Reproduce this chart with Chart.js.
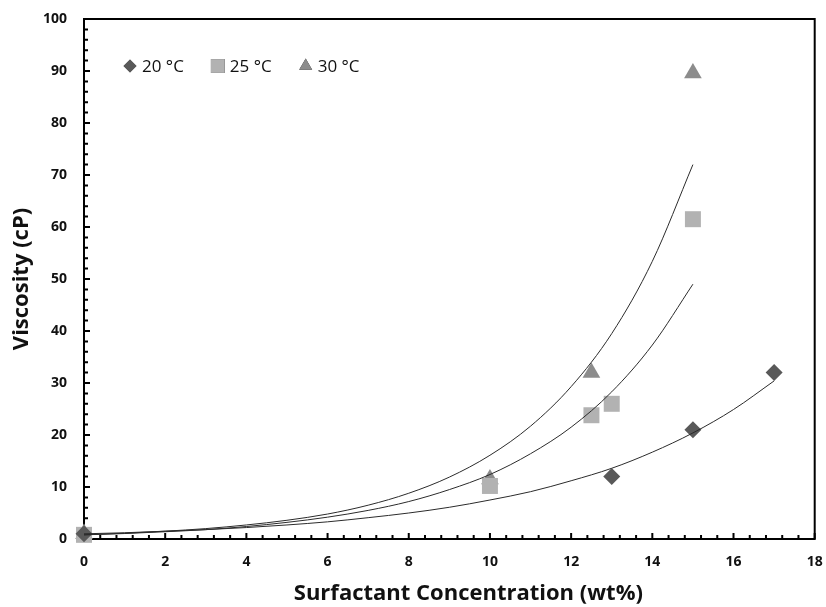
<!DOCTYPE html>
<html>
<head>
<meta charset="utf-8">
<title>Viscosity vs surfactant concentration</title>
<script src="https://cdn.jsdelivr.net/npm/chart.js@4.4.1/dist/chart.umd.min.js"></script>
<style>
    html, body { margin: 0; padding: 0; background: #fff; }
</style>
</head>
<body>
<canvas id="viscosity-chart" width="826" height="607"></canvas>
<script>
const seriesLabels = ['20 °C', '25 °C', '30 °C'];
const xTitle = 'Surfactant Concentration (wt%)';
const yTitle = 'Viscosity (cP)';

// measured points
const conc20 = [0, 13, 15, 17];
const visc20 = [1, 12, 21, 32];
const conc25 = [0, 10, 12.5, 13, 15];
const visc25 = [0.8, 10.2, 23.8, 26, 61.5];
const conc30 = [0, 10, 12.5, 15];
const visc30 = [1, 11.5, 32, 89.6];

// trend curves at every 1 wt%
const trendConc20 = [0, 1, 2, 3, 4, 5, 6, 7, 8, 9, 10, 11, 12, 13, 14, 15, 16, 17];
const trendVisc20 = [1.0, 1.2, 1.5, 1.8, 2.2, 2.7, 3.3, 4.1, 5.0, 6.1, 7.5, 9.1, 11.2, 13.6, 16.7, 20.4, 24.9, 30.4];
const trendConc25 = [0, 1, 2, 3, 4, 5, 6, 7, 8, 9, 10, 11, 12, 13, 14, 15];
const trendVisc25 = [0.8, 1.05, 1.4, 1.8, 2.4, 3.2, 4.2, 5.5, 7.2, 9.5, 12.4, 16.4, 21.5, 28.3, 37.3, 49.0];
const trendConc30 = [0, 1, 2, 3, 4, 5, 6, 7, 8, 9, 10, 11, 12, 13, 14, 15];
const trendVisc30 = [0.8, 1.1, 1.5, 2.0, 2.7, 3.6, 4.8, 6.5, 8.8, 11.9, 16.1, 21.7, 29.3, 39.5, 53.4, 72.0];

const markerColors = ['#595959', '#b2b2b2', '#8c8c8c'];
const markerStyles = ['rectRot', 'rect', 'triangle'];
const markerRadius = [8.5, 11.3, 10.2];
const legendRadius = [6.5, 9.8, 7.5];

const fontFamily = "'Open Sans', 'DejaVu Sans', sans-serif";

function toPoints(xs, ys) {
    return xs.map((x, i) => ({ x, y: ys[i] }));
}

function markerDataset(i, xs, ys) {
    return {
        label: seriesLabels[i],
        data: toPoints(xs, ys),
        pointStyle: markerStyles[i],
        pointRadius: markerRadius[i],
        pointBackgroundColor: markerColors[i],
        pointBorderColor: markerColors[i],
        pointBorderWidth: 0,
        showLine: false,
        clip: false,
        isMarker: true,
        order: 2,
    };
}

function trendDataset(xs, ys) {
    return {
        label: 'trend',
        data: toPoints(xs, ys),
        showLine: true,
        borderColor: '#2b2b2b',
        borderWidth: 1,
        pointRadius: 0,
        cubicInterpolationMode: 'monotone',
        clip: false,
        order: 1,
    };
}

// frame with inward major / minor ticks, drawn under the markers
const frameTicks = {
    id: 'frameTicks',
    beforeDatasetsDraw(chart) {
        const { ctx, chartArea: a, scales: { x, y } } = chart;
        ctx.save();
        ctx.strokeStyle = '#000';
        ctx.lineWidth = 2;
        ctx.strokeRect(a.left, a.top, a.right - a.left, a.bottom - a.top);

        ctx.beginPath();
        for (let i = 0; i <= 45; i++) {
            const px = x.getPixelForValue(i * 0.4);
            const len = i % 5 === 0 ? 6 : 4;
            ctx.moveTo(px, a.bottom);
            ctx.lineTo(px, a.bottom - len);
        }
        for (let i = 0; i <= 50; i++) {
            const py = y.getPixelForValue(i * 2);
            const len = i % 5 === 0 ? 6 : 4;
            ctx.moveTo(a.left, py);
            ctx.lineTo(a.left + len, py);
        }
        ctx.stroke();

        // x title sits a little right of the plot centre in the original
        ctx.font = `bold 22px ${fontFamily}`;
        ctx.fillStyle = '#111';
        ctx.textAlign = 'center';
        ctx.textBaseline = 'middle';
        ctx.fillText(xTitle, (a.left + a.right) / 2 + 19, chart.height - 13);
        ctx.restore();
    },
};

// legend inside the plot, top left
const insideLegend = {
    id: 'insideLegend',
    afterDraw(chart) {
        const { ctx, chartArea: a } = chart;
        const markers = chart.data.datasets.filter((d) => d.isMarker);
        ctx.save();
        ctx.font = `17px ${fontFamily}`;
        ctx.textBaseline = 'middle';
        let cx = a.left + 46;
        const cy = a.top + 47;
        markers.forEach((ds, i) => {
            Chart.helpers.drawPoint(ctx, {
                pointStyle: ds.pointStyle,
                radius: legendRadius[i],
                rotation: 0,
                borderWidth: 0,
            }, cx, cy);
            ctx.fillStyle = ds.pointBackgroundColor;
            ctx.fill();
            ctx.fillStyle = '#111';
            const tx = cx + 12;
            ctx.fillText(ds.label, tx, cy + 1);
            cx = tx + ctx.measureText(ds.label).width + 34;
        });
        ctx.restore();
    },
};

function fixX(scale) {
    scale.height = 68;
    scale.paddingLeft = 0;
    scale.paddingRight = 0;
}

function fixY(scale) {
    scale.width = 84;
    scale.paddingTop = 0;
    scale.paddingBottom = 0;
}

const canvas = document.getElementById('viscosity-chart');

new Chart(canvas, {
    type: 'scatter',
    data: {
        datasets: [
            markerDataset(0, conc20, visc20),
            markerDataset(1, conc25, visc25),
            markerDataset(2, conc30, visc30),
            trendDataset(trendConc20, trendVisc20),
            trendDataset(trendConc25, trendVisc25),
            trendDataset(trendConc30, trendVisc30),
        ],
    },
    options: {
        responsive: false,
        animation: false,
        layout: { padding: { top: 19, right: 8, bottom: 0, left: 0 } },
        plugins: {
            legend: { display: false },
            tooltip: { enabled: false },
        },
        scales: {
            x: {
                type: 'linear',
                min: 0,
                max: 18,
                afterFit: fixX,
                grid: { display: false, drawTicks: false },
                border: { display: false },
                ticks: {
                    stepSize: 2,
                    padding: 15,
                    color: '#111',
                    font: { family: fontFamily, size: 14, weight: 'bold' },
                },
            },
            y: {
                type: 'linear',
                min: 0,
                max: 100,
                afterFit: fixY,
                grid: { display: false, drawTicks: false },
                border: { display: false },
                ticks: {
                    stepSize: 10,
                    padding: 17,
                    color: '#111',
                    font: { family: fontFamily, size: 14, weight: 'bold' },
                },
                title: {
                    display: true,
                    text: yTitle,
                    color: '#111',
                    padding: { top: 9, bottom: 0 },
                    font: { family: fontFamily, size: 22, weight: 'bold' },
                },
            },
        },
    },
    plugins: [frameTicks, insideLegend],
});
</script>
</body>
</html>
